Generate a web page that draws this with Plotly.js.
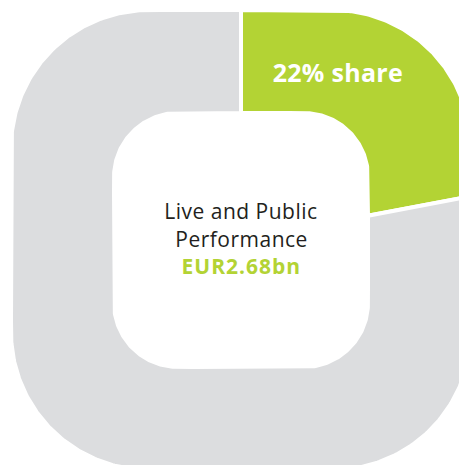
<!DOCTYPE html>
<html>
<head>
<meta charset="utf-8">
<script src="https://cdn.plot.ly/plotly-3.0.1.min.js"></script>
<style>
html,body{margin:0;padding:0;background:#fff;overflow:hidden}#chart{width:459px;height:465px}
.annotation[data-index="0"] text{letter-spacing:0.3px}
.annotation[data-index="1"] text,.annotation[data-index="2"] text{letter-spacing:0.5px}
.annotation[data-index="3"] text{letter-spacing:1px}
</style>
</head>
<body>
<div id="chart"></div>
<script>
// ---- data ----
const categories = ['Live and Public Performance', 'Other'];
const shares = [22, 78];
const colors = ['#b3d334', '#dcdddf'];
const centerTitle = ['Live and Public', 'Performance'];
const centerValue = 'EUR2.68bn';

// ---- geometry of the rounded-square ring (pixel-like axis units) ----
const cx = 241, cy = 240;
const outer = {h: 230, r: 138};
const inner = {h: 127, r: 64};

function sdf(px, py, s) {
  const qx = Math.abs(px) - (s.h - s.r), qy = Math.abs(py) - (s.h - s.r);
  const ox = Math.max(qx, 0), oy = Math.max(qy, 0);
  return Math.hypot(ox, oy) + Math.min(Math.max(qx, qy), 0) - s.r;
}
function rayHit(theta, s) {
  const dx = Math.sin(theta), dy = -Math.cos(theta);
  let lo = 0, hi = s.h * 2;
  for (let i = 0; i < 50; i++) {
    const m = (lo + hi) / 2;
    if (sdf(dx * m, dy * m, s) <= 0) lo = m; else hi = m;
  }
  return [cx + dx * lo, cy + dy * lo];
}

const total = shares.reduce((a, b) => a + b, 0);
const traces = [];
let start = 0;
shares.forEach((v, i) => {
  const a1 = start / total * 2 * Math.PI;
  const a2 = (start + v) / total * 2 * Math.PI;
  start += v;
  const n = Math.max(20, Math.round(v * 8));
  const xs = [], ys = [];
  for (let k = 0; k <= n; k++) {
    const p = rayHit(a1 + (a2 - a1) * k / n, outer);
    xs.push(p[0]); ys.push(p[1]);
  }
  for (let k = n; k >= 0; k--) {
    const p = rayHit(a1 + (a2 - a1) * k / n, inner);
    xs.push(p[0]); ys.push(p[1]);
  }
  xs.push(xs[0]); ys.push(ys[0]);
  traces.push({
    type: 'scatter', mode: 'lines', x: xs, y: ys, fill: 'toself',
    fillcolor: colors[i], line: {color: '#ffffff', width: 4},
    name: categories[i], hoverinfo: 'skip', showlegend: false
  });
});

const font = '"Open Sans", sans-serif';
const layout = {
  width: 459, height: 465,
  margin: {l: 0, r: 0, t: 0, b: 0},
  paper_bgcolor: '#ffffff', plot_bgcolor: '#ffffff',
  showlegend: false,
  xaxis: {range: [0, 459], visible: false, fixedrange: true},
  yaxis: {range: [465, 0], visible: false, fixedrange: true},
  annotations: [
    {x: 338, y: 72, text: '<b>' + shares[0] + '% share</b>', showarrow: false,
     font: {family: font, size: 25, color: '#ffffff'}, xanchor: 'center', yanchor: 'middle'},
    {x: 241, y: 211, text: centerTitle[0], showarrow: false,
     font: {family: font, size: 21, color: '#231f20'}, xanchor: 'center', yanchor: 'middle'},
    {x: 241, y: 239, text: centerTitle[1], showarrow: false,
     font: {family: font, size: 21, color: '#231f20'}, xanchor: 'center', yanchor: 'middle'},
    {x: 241, y: 266, text: '<b>' + centerValue + '</b>', showarrow: false,
     font: {family: font, size: 21, color: colors[0]}, xanchor: 'center', yanchor: 'middle'}
  ]
};
Plotly.newPlot('chart', traces, layout, {staticPlot: true, displayModeBar: false});
</script>
</body>
</html>
